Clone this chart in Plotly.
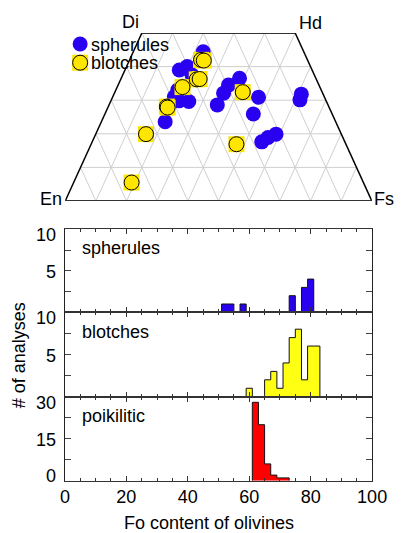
import plotly.graph_objects as go

W, H = 409, 533
def px(x): return x / W
def py(y): return 1 - y / H

FONT = "Liberation Sans, Arial, sans-serif"

# ---------------- pyroxene quadrilateral data (mol% Wo, Fs) ----------------
sph_wo = [44.4, 39.0, 39.5, 37.5, 33.0, 31.0, 29.6, 23.6, 36.5, 34.5, 32.1, 28.6,
          30.9, 25.9, 31.8, 30.1, 19.9, 18.9, 17.6, 40.0, 29.8]
sph_fs = [22.8, 17.7, 19.6, 22.6, 20.2, 20.1, 25.5, 20.8, 38.6, 36.0, 35.6, 35.3,
          47.6, 48.4, 61.1, 61.5, 58.8, 56.7, 55.3, 19.8, 22.2]
blo_wo = [42.0, 41.8, 36.2, 36.3, 33.9, 28.1, 27.8, 19.9, 5.5, 32.4, 16.9]
blo_fs = [23.3, 24.3, 24.8, 25.7, 21.3, 19.1, 19.5, 16.4, 18.9, 41.7, 47.4]

# ---------------- olivine Fo histograms (bin left edges, counts) ----------------
bin_width = 2
sph_edges = [51, 53, 55, 57, 59, 61, 63, 65, 67, 69, 71, 73, 75, 77, 79]
sph_counts = [1, 1, 0, 1, 0, 0, 0, 0, 0, 0, 0, 2, 0, 3, 4]
blo_edges = [59, 61, 63, 65, 67, 69, 71, 73, 75, 77, 79, 81]
blo_counts = [1, 0, 0, 2, 3, 1, 4, 7, 8, 2, 6, 6]
poi_edges = [61, 63, 65, 67, 69, 71]
poi_counts = [28, 20, 6, 2, 1, 1]

x_ticks = [0, 20, 40, 60, 80, 100]

BLUE = "#2a00f0"
YEL_T = "#ffe600"
YEL_H = "#ffff14"
RED = "#ff0000"

fig = go.Figure()

# ---- quadrilateral axes (x = Fs + Wo/2, y = Wo) ----
def tern(wo, fs):
    return [f + w / 2 for w, f in zip(wo, fs)], list(wo)

gx, gy = [], []
for w in range(10, 50, 10):
    gx += [w / 2, 100 - w / 2, None]; gy += [w, w, None]
for f in range(10, 100, 10):
    top = min(50, 100 - f)
    gx += [f, f + top / 2, None]; gy += [0, top, None]
for e in range(10, 100, 10):
    top = min(50, 100 - e)
    gx += [100 - e, 100 - e - top / 2, None]; gy += [0, top, None]
fig.add_trace(go.Scatter(x=gx, y=gy, mode="lines", line=dict(color="#cfcfcf", width=1),
                         hoverinfo="skip", showlegend=False, xaxis="x4", yaxis="y4"))
fig.add_trace(go.Scatter(x=[0, 25, None, 75, 100], y=[0, 50, None, 50, 0], mode="lines",
                         line=dict(color="black", width=1.5),
                         showlegend=False, xaxis="x4", yaxis="y4", cliponaxis=False))
fig.add_trace(go.Scatter(x=[25, 75, None, 0, 100], y=[50, 50, None, 0, 0], mode="lines",
                         line=dict(color="#333333", width=2.2),
                         showlegend=False, xaxis="x4", yaxis="y4", cliponaxis=False))

sx, sy = tern(sph_wo, sph_fs)
fig.add_trace(go.Scatter(x=sx, y=sy, mode="markers", name="spherules",
                         marker=dict(symbol="circle", size=15, color=BLUE, line=dict(width=0)),
                         showlegend=False, xaxis="x4", yaxis="y4", cliponaxis=False))
bx, by = tern(blo_wo, blo_fs)
fig.add_trace(go.Scatter(x=bx, y=by, mode="markers",
                         marker=dict(symbol="square", size=16, color=YEL_T, line=dict(width=0)),
                         showlegend=False, xaxis="x4", yaxis="y4", cliponaxis=False))
fig.add_trace(go.Scatter(x=bx, y=by, mode="markers", name="blotches",
                         marker=dict(symbol="circle", size=15, color=YEL_T, line=dict(width=1, color="black")),
                         showlegend=False, xaxis="x4", yaxis="y4", cliponaxis=False))

# manual legend glyphs
lx = (79 - 63.3) / 3.224
fig.add_trace(go.Scatter(x=[lx], y=[(201 - 44) / 3.36], mode="markers",
                         marker=dict(symbol="circle", size=15, color=BLUE, line=dict(width=0)),
                         showlegend=False, xaxis="x4", yaxis="y4", cliponaxis=False))
fig.add_trace(go.Scatter(x=[lx], y=[(201 - 62.7) / 3.36], mode="markers",
                         marker=dict(symbol="square", size=16, color=YEL_T, line=dict(width=0)),
                         showlegend=False, xaxis="x4", yaxis="y4", cliponaxis=False))
fig.add_trace(go.Scatter(x=[lx], y=[(201 - 62.7) / 3.36], mode="markers",
                         marker=dict(symbol="circle", size=15, color=YEL_T, line=dict(width=1, color="black")),
                         showlegend=False, xaxis="x4", yaxis="y4", cliponaxis=False))

# ---- histograms as step outlines ----
def step(edges, counts):
    xs = [edges[0], edges[0]] + [e for e in edges[1:]] + [edges[-1] + bin_width]
    ys = [0] + list(counts) + [0]
    return xs, ys

for (edges, counts, col, ax) in [(sph_edges, sph_counts, BLUE, "1"),
                                 (blo_edges, blo_counts, YEL_H, "2"),
                                 (poi_edges, poi_counts, RED, "3")]:
    xs, ys = step(edges, counts)
    fig.add_trace(go.Scatter(x=xs, y=ys, mode="lines", line=dict(shape="hv", color="#111111", width=1),
                             fill="tozeroy", fillcolor=col, showlegend=False,
                             xaxis="x" if ax == "1" else "x" + ax,
                             yaxis="y" if ax == "1" else "y" + ax))

XD = [px(63), px(386)]
xcommon = dict(range=[0, 100], domain=XD, showgrid=False, zeroline=False, showline=True,
               linecolor="#333333", linewidth=1.2, mirror="ticks", ticks="inside", ticklen=5,
               tickcolor="#333333", tickvals=x_ticks,
               minor=dict(dtick=5, ticks="inside", ticklen=3, tickcolor="#333333"))
ycommon = dict(showgrid=False, zeroline=False, showline=True, linecolor="#222222", linewidth=1.2,
               mirror="ticks", ticks="inside", ticklen=6, tickcolor="#444444", showticklabels=False)

fig.update_layout(
    width=W, height=H, margin=dict(l=0, r=0, t=0, b=0), autosize=False,
    paper_bgcolor="white", plot_bgcolor="white",
    font=dict(family=FONT, size=18, color="black"),
    showlegend=False,
    xaxis=dict(**xcommon, anchor="y", showticklabels=False),
    yaxis=dict(**ycommon, domain=[py(312.3), py(229.3)], range=[0, 10], dtick=2.5, anchor="x"),
    xaxis2=dict(**xcommon, anchor="y2", showticklabels=False),
    yaxis2=dict(**ycommon, domain=[py(396.7), py(312.3)], range=[0, 10], dtick=2.5, anchor="x2"),
    xaxis3=dict(**xcommon, anchor="y3", showticklabels=True, tickfont=dict(size=18, family=FONT)),
    yaxis3=dict(**ycommon, domain=[py(480.7), py(396.7)], range=[0, 30], dtick=7.5, anchor="x3"),
    xaxis4=dict(range=[0, 100], domain=[px(63.3), px(385.7)], visible=False, anchor="y4"),
    yaxis4=dict(range=[0, 50], domain=[py(201), py(33)], visible=False, anchor="x4"),
)

ann = []
def text(x, y, s, xa="center", ya="middle", angle=0, size=18):
    ann.append(dict(x=px(x), y=py(y), xref="paper", yref="paper", text=s, showarrow=False,
                    xanchor=xa, yanchor=ya, textangle=angle, font=dict(size=size, family=FONT, color="black")))

# vertex labels
text(132, 21.7, "Di"); text(320.8, 23, "Hd"); text(48.7, 199, "En"); text(399, 199, "Fs")
# legend text
text(88, 44.5, "spherules", xa="left"); text(88, 63, "blotches", xa="left")
# panel labels
text(79, 248.3, "spherules", xa="left"); text(79, 331.7, "blotches", xa="left"); text(79, 416, "poikilitic", xa="left")
# y tick labels
for (y, s) in [(235, "10"), (271.7, "5"), (318, "10"), (356, "5"), (402.5, "30"), (439.5, "15"), (475.5, "0")]:
    text(56, y, s, xa="right")
# axis titles
text(214, 523, "Fo content of olivines")
text(15, 355, "# of analyses", angle=-90)
fig.update_layout(annotations=ann)

fig.write_html("out.html", config={"displayModeBar": False},
               post_script="document.body.style.margin='0px';document.body.style.overflow='hidden';")
